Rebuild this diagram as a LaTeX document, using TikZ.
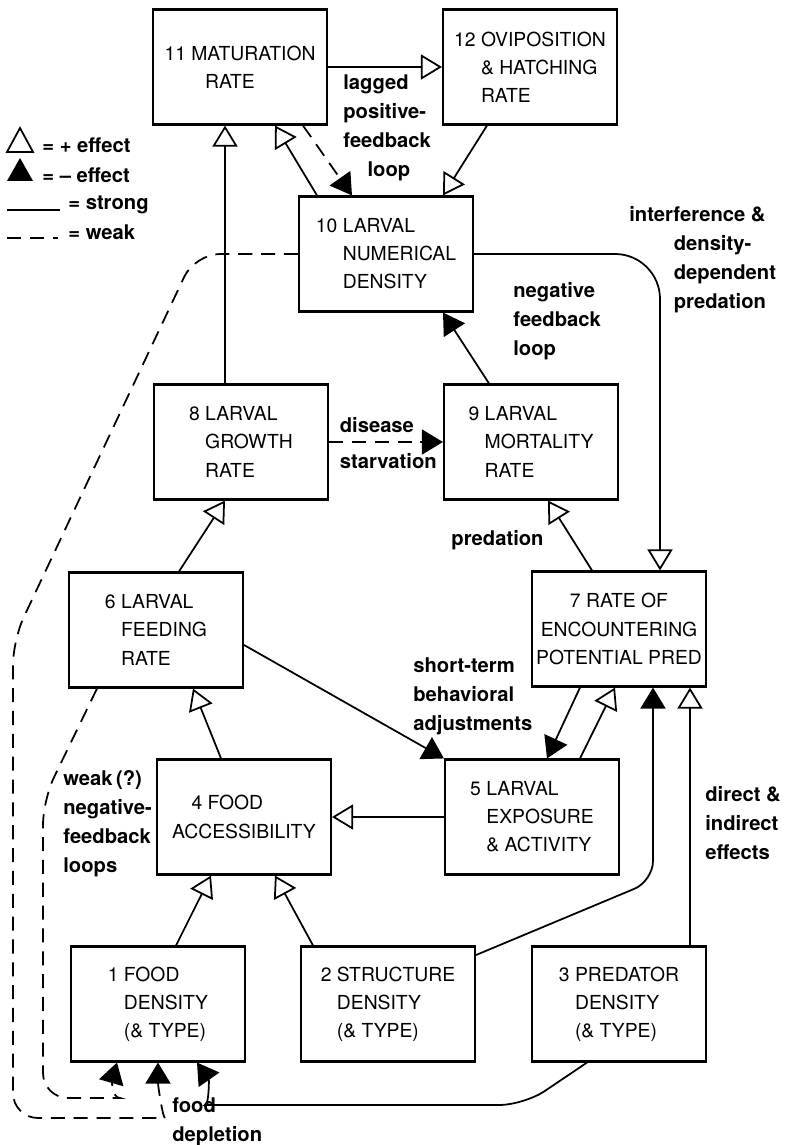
\documentclass[tikz,border=0pt]{standalone}
\usepackage{fontspec}
\setmainfont{TeX Gyre Heros}
\usepackage{tikz}
\usetikzlibrary{arrows.meta,calc,positioning}
\tikzset{
  box/.style={draw, line width=1.2pt, minimum width=3.48cm, minimum height=2.3cm, inner sep=1pt, align=left, font=\fontsize{11}{16}\selectfont},
  poseff/.style={-{Triangle[open,length=0.42cm,width=0.5cm]}, line width=1pt},
  negeff/.style={-{Triangle[length=0.42cm,width=0.5cm]}, line width=1pt},
  weak/.style={dash pattern=on 8pt off 5pt},
  lbl/.style={font=\bfseries\fontsize{11.5}{16.5}\selectfont, align=left, inner sep=0pt}
}

\begin{document}
\begin{tikzpicture}
\useasboundingbox (0,0) rectangle (15.68,-22.9);
\node[box] (B11) at (4.80,-1.34) {11 MATURATION\\\hspace*{2.1em}RATE};
\node[box] (B12) at (10.60,-1.34) {12 OVIPOSITION\\\phantom{12 }\& HATCHING\\\phantom{12 }RATE};
\node[box] (B10) at (7.72,-5.08) {10 LARVAL\\\phantom{10 }NUMERICAL\\\phantom{10 }DENSITY};
\node[box] (B8) at (4.82,-8.84) {8 LARVAL\\\phantom{8 }GROWTH\\\phantom{8 }RATE};
\node[box] (B9) at (10.62,-8.84) {9 LARVAL\\\phantom{9 }MORTALITY\\\phantom{9 }RATE};
\node[box] (B6) at (3.12,-12.60) {6 LARVAL\\\phantom{6 }FEEDING\\\phantom{6 }RATE};
\node[box,align=center] (B7) at (12.38,-12.58) {7 RATE OF\\ENCOUNTERING\\POTENTIAL PRED};
\node[box] (B4) at (4.88,-16.34) {\hspace*{1em}4 FOOD\\ACCESSIBILITY};
\node[box] (B5) at (10.64,-16.34) {5 LARVAL\\\phantom{5 }EXPOSURE\\\phantom{5 }\& ACTIVITY};
\node[box] (B1) at (3.16,-20.08) {1 FOOD\\\phantom{1 }DENSITY\\\phantom{1 }(\& TYPE)};
\node[box] (B2) at (7.76,-20.08) {2 STRUCTURE\\\phantom{2 }DENSITY\\\phantom{2 }(\& TYPE)};
\node[box] (B3) at (12.38,-20.08) {3 PREDATOR\\\phantom{3 }DENSITY\\\phantom{3 }(\& TYPE)};

\coordinate (K1) at (13.06,-17.62);
\coordinate (K2) at (10.48,-22.10);
\coordinate (K3) at (4.60,-22.10);
\coordinate (K4) at (3.90,-5.08);
\coordinate (K5) at (0.26,-12.80);
\coordinate (K6) at (0.26,-22.36);
\coordinate (K7) at (2.80,-22.36);
\coordinate (K8) at (0.86,-16.00);
\coordinate (K9) at (0.86,-21.96);
\coordinate (K10) at (1.90,-21.96);

\draw[poseff] (B11) -- (B12);
\draw[poseff] ([xshift=-0.86cm]B12.south) -- ([xshift=1.14cm]B10.north);
\draw[poseff] ([xshift=-1.38cm]B10.north) -- ([xshift=0.70cm]B11.south);
\draw[negeff,weak] ([xshift=1.26cm]B11.south) -- ([xshift=-0.68cm]B10.north);
\draw[poseff] ([xshift=-0.32cm]B8.north) -- ([xshift=-0.30cm]B11.south);
\draw[negeff,weak] (B8) -- node[lbl,above=5pt,pos=0.42] (L2) {disease} node[lbl,below=6pt,pos=0.52] (L3) {starvation} (B9);
\draw[negeff] ([xshift=-0.84cm]B9.north) -- ([xshift=1.14cm]B10.south);
\draw[poseff,rounded corners=0.9cm] (B10.east) -| ([xshift=0.82cm]B7.north);
\draw[poseff] ([xshift=-0.54cm]B7.north) -- ([xshift=0.34cm]B9.south);
\draw[poseff] ([xshift=0.46cm]B6.north) -- ([xshift=-0.32cm]B8.south);
\draw[negeff] ([yshift=-0.3cm]B6.east) -- (B5.north west);
\draw[negeff] ([xshift=-0.78cm]B7.south) -- ([xshift=0.30cm]B5.north);
\draw[poseff] ([xshift=0.96cm]B5.north) -- ([xshift=-0.08cm]B7.south);
\draw[poseff] ([xshift=-0.46cm]B4.north) -- ([xshift=0.74cm]B6.south);
\draw[poseff] (B5) -- (B4);
\draw[poseff] ([xshift=0.36cm]B1.north) -- ([xshift=-0.66cm]B4.south);
\draw[poseff] ([xshift=-1.5cm]B2.north) -- ([xshift=0.62cm]B4.south);
\draw[negeff,rounded corners=0.4cm] ([yshift=0.98cm]B2.east) -- (K1) -- ([xshift=0.68cm]B7.south);
\draw[poseff] ([xshift=1.42cm]B3.north) -- ([xshift=1.42cm]B7.south);
\draw[negeff,rounded corners=0.5cm] ([xshift=-0.64cm]B3.south) -- (K2) -- (K3) to[out=180,in=-55] ([xshift=0.78cm]B1.south);
\draw[negeff,weak,rounded corners=0.5cm] (B10.west) -- (K4) -- (K5) -- (K6) -- (K7) to[out=0,in=-90] (B1.south);
\draw[negeff,weak,rounded corners=0.5cm] ([xshift=-1.18cm]B6.south) -- (K8) -- (K9) -- (K10) to[out=0,in=-106] ([xshift=-0.82cm]B1.south);

\node[lbl,anchor=west] (L1) at (6.86,-2.56) {lagged\\positive-\\feedback\\\hspace*{1.2em}loop};
\node[lbl,anchor=west] (L4) at (10.26,-6.42) {negative\\feedback\\loop};
\node[lbl,anchor=west] (L5) at (12.58,-5.20) {interference \&\\\hspace*{2.2em}density-\\\hspace*{2.2em}dependent\\\hspace*{2.2em}predation};
\node[lbl] (L6) at (9.95,-10.80) {predation};
\node[lbl,anchor=west] (L7) at (8.26,-13.92) {short-term\\behavioral\\adjustments};
\node[lbl,anchor=west] (L8) at (1.26,-16.48) {weak\,(?)\\negative-\\feedback\\loops};
\node[lbl,anchor=west] (L9) at (14.10,-16.46) {direct \&\\indirect\\effects};
\node[lbl,anchor=west] (L10) at (3.44,-22.43) {food\\depletion};

\draw[line width=1pt] (0.14,-3.04) -- (0.66,-3.04) -- (0.40,-2.56) -- cycle;
\fill (0.14,-3.62) -- (0.66,-3.62) -- (0.40,-3.16) -- cycle;
\draw[line width=1pt] (0.14,-4.20) -- (1.20,-4.20);
\draw[line width=1pt,weak] (0.14,-4.76) -- (1.16,-4.76);
\node[lbl,anchor=west] (E1) at (0.84,-2.90) {= + effect};
\node[lbl,anchor=west] (E2) at (0.84,-3.50) {= -- effect};
\node[lbl,anchor=west] (E3) at (1.36,-4.10) {= strong};
\node[lbl,anchor=west] (E4) at (1.36,-4.64) {= weak};
\end{tikzpicture}
\end{document}
